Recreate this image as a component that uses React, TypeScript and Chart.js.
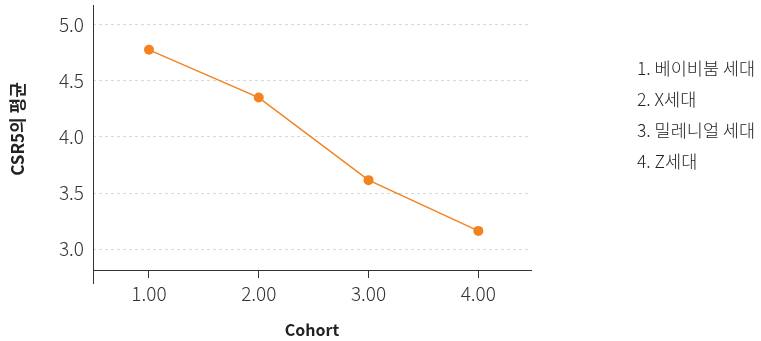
import React, { useEffect, useRef } from "react";
import { Chart, registerables } from "chart.js";

Chart.register(...registerables);

const cohorts = [1, 2, 3, 4];
const csr5Means = [4.778, 4.352, 3.615, 3.162];
const xTickValues = [1, 2, 3, 4];
const yTickValues = [3.0, 3.5, 4.0, 4.5, 5.0];
const legendLines = ["1. 베이비붐 세대", "2. X세대", "3. 밀레니얼 세대", "4. Z세대"];
const xTitle = "Cohort";
const yTitle = "CSR5의 평균";

const FONT = "'Noto Sans CJK KR', 'Noto Sans', sans-serif";

const axisPlugin = {
  id: "axisExtras",
  afterDraw(chart: any) {
    const { ctx, chartArea } = chart;
    ctx.save();
    ctx.strokeStyle = "#333";
    ctx.lineWidth = 1;
    ctx.beginPath();
    ctx.moveTo(chartArea.left + 0.5, chartArea.top);
    ctx.lineTo(chartArea.left + 0.5, chartArea.bottom + 14);
    ctx.stroke();
    ctx.fillStyle = "#222";
    ctx.font = `bold 16px ${FONT}`;
    ctx.textAlign = "center";
    ctx.textBaseline = "middle";
    ctx.fillText(xTitle, (chartArea.left + chartArea.right) / 2, 330);
    ctx.font = `bold 17px ${FONT}`;
    ctx.translate(18, 129);
    ctx.rotate(-Math.PI / 2);
    ctx.fillText(yTitle, 0, 0);
    ctx.restore();
  },
};

export default function App() {
  const ref = useRef<HTMLCanvasElement>(null);
  useEffect(() => {
    document.body.style.margin = "0";
    const chart = new Chart(ref.current!, {
      type: "line",
      data: {
        datasets: [
          {
            data: cohorts.map((c, i) => ({ x: c, y: csr5Means[i] })),
            borderColor: "#f58220",
            backgroundColor: "#f58220",
            borderWidth: 1.5,
            pointRadius: 5,
            pointHoverRadius: 5,
            pointBorderWidth: 0,
            tension: 0,
          },
        ],
      },
      options: {
        animation: false,
        responsive: false,
        layout: { padding: { left: 0, right: 230, top: 4, bottom: 0 } },
        plugins: { legend: { display: false }, tooltip: { enabled: false } },
        scales: {
          x: {
            type: "linear",
            min: 0.49,
            max: 4.48,
            afterBuildTicks: (s: any) => {
              s.ticks = xTickValues.map((v) => ({ value: v }));
            },
            afterFit: (s: any) => {
              s.height = 71;
              s.paddingLeft = 0;
              s.paddingRight = 0;
            },
            border: { display: true, color: "#333", width: 1 },
            grid: { drawOnChartArea: false, drawTicks: true, tickLength: 8, color: "#333" },
            ticks: {
              color: "#333",
              font: { family: FONT, size: 19, weight: "300" as any },
              padding: 4,
              callback: (v: any) => Number(v).toFixed(2),
            },
          },
          y: {
            type: "linear",
            min: 2.813,
            max: 5.178,
            afterBuildTicks: (s: any) => {
              s.ticks = yTickValues.map((v) => ({ value: v }));
            },
            afterFit: (s: any) => {
              s.width = 93;
              s.paddingTop = 0;
              s.paddingBottom = 0;
            },
            border: { display: false, dash: [3, 3] },
            grid: { drawTicks: false, color: "#d9d9d9", lineWidth: 1 },
            ticks: {
              color: "#333",
              font: { family: FONT, size: 19, weight: "300" as any },
              padding: 9,
              callback: (v: any) => Number(v).toFixed(1),
            },
          },
        },
      },
      plugins: [axisPlugin],
    });
    return () => chart.destroy();
  }, []);
  return (
    <div style={{ position: "relative", width: 761, height: 341 }}>
      <canvas ref={ref} width={761} height={341} />
      {legendLines.map((t, i) => (
        <div
          key={i}
          style={{
            position: "absolute",
            left: 637,
            top: 56 + i * 31,
            fontFamily: FONT,
            fontSize: 17.5,
            fontWeight: 300,
            color: "#222",
            lineHeight: "24px",
            whiteSpace: "nowrap",
          }}
        >
          {t}
        </div>
      ))}
    </div>
  );
}
